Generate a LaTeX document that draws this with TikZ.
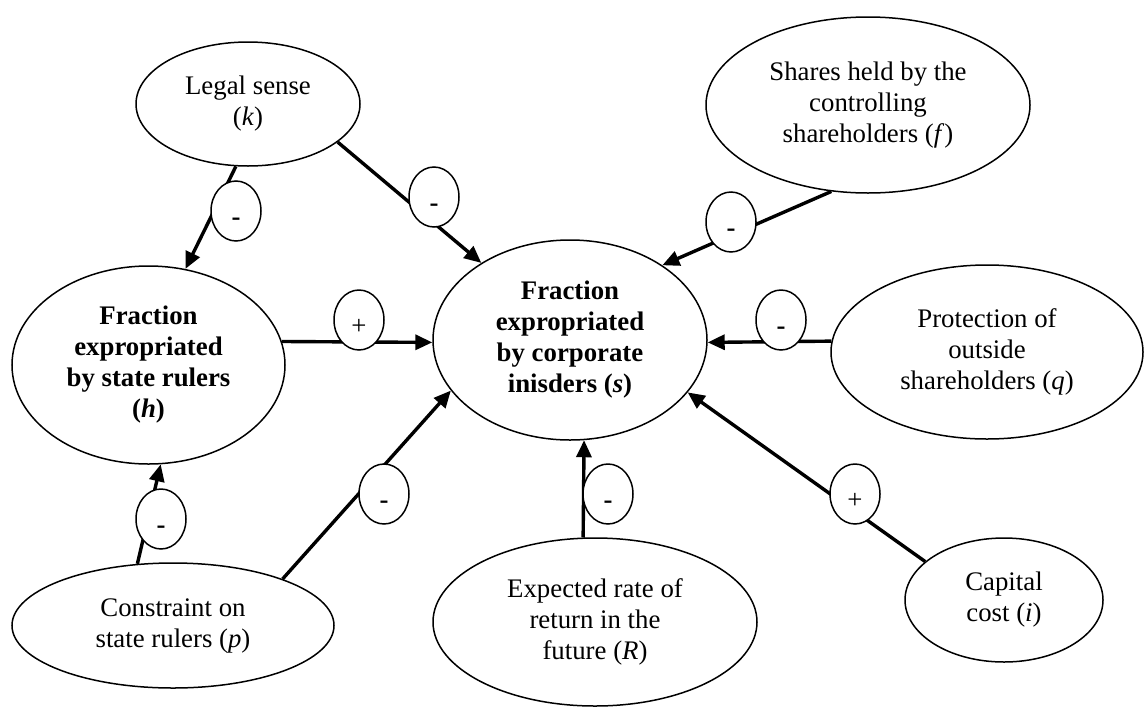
\documentclass[tikz,border=0pt]{standalone}
\usepackage{fontspec}
\setmainfont{Liberation Serif}
\usetikzlibrary{arrows.meta,shapes.geometric}
\newcommand\signtxt[1]{\raisebox{-7pt}[0pt][0pt]{#1}}
\begin{document}
\begin{tikzpicture}[x=0.5pt,y=-0.5pt,
  ov/.style={ellipse,draw,line width=0.75pt,inner sep=0pt,align=center,font=\fontsize{13.4}{15.5}\selectfont},
  big/.style={ov,font=\fontsize{13.4}{15.5}\selectfont\bfseries},
  sign/.style={ellipse,draw,fill=white,line width=0.75pt,inner sep=0pt,minimum width=25pt,minimum height=30pt,font=\fontsize{13.4}{15.5}\selectfont},
  arr/.style={line width=1.7pt,-{Triangle[length=8.5pt,width=7.5pt]}}]
\useasboundingbox (0,0) rectangle (1145,707);
% main ellipses
\node[ov,minimum width=112pt,minimum height=62pt] (k) at (248,104) {Legal sense\\(\textit{k})};
\node[ov,minimum width=162pt,minimum height=88pt] (f) at (868,105) {Shares held by the\\controlling\\shareholders (\textit{f})};
\node[big,minimum width=136.5pt,minimum height=99pt] (h) at (148.5,365) {Fraction\\expropriated\\by state rulers\\(\textit{h})};
\node[big,minimum width=137pt,minimum height=100pt] (s) at (570,340) {Fraction\\expropriated\\by corporate\\inisders (\textit{s})};
\node[ov,minimum width=156pt,minimum height=87pt] (q) at (987,352) {Protection of\\outside\\shareholders (\textit{q})};
\node[ov,minimum width=161pt,minimum height=62.5pt] (p) at (173,625.5) {Constraint on\\state rulers (\textit{p})};
\node[ov,minimum width=162pt,minimum height=84pt] (R) at (595,622) {Expected rate of\\return in the\\future (\textit{R})};
\node[ov,minimum width=99pt,minimum height=62pt] (i) at (1004,600) {Capital\\cost (\textit{i})};
% connectors
\draw[arr] (k.-101.7) -- (h.69);
\draw[arr] (k.-23.5) -- (s.139.6);
\draw[arr] (f.-113.8) -- (s.39.4);
\draw[arr] (h.10) -- (s.181);
\draw[arr] (q.176) -- (s.-1);
\draw[arr] (p.120) -- (h.-83.4);
\draw[arr] (p.23) -- (s.203.8);
\draw[arr] (R.98) -- (s.-82.6);
\draw[arr] (i.154) -- (s.-24.7);
% signs
\node[sign] (skh) at (236,211) {\signtxt{\textbf{-}}};
\node[sign] (sks) at (434,197) {\signtxt{\textbf{-}}};
\node[sign] (sfs) at (731,222) {\signtxt{\textbf{-}}};
\node[sign] (shs) at (359,320) {\signtxt{+}};
\node[sign] (sqs) at (781,320) {\signtxt{\textbf{-}}};
\node[sign] (sph) at (161,519) {\signtxt{\textbf{-}}};
\node[sign] (sps) at (384,494) {\signtxt{\textbf{-}}};
\node[sign] (sRs) at (608,494) {\signtxt{\textbf{-}}};
\node[sign] (sis) at (855,494) {\signtxt{+}};
\end{tikzpicture}
\end{document}
